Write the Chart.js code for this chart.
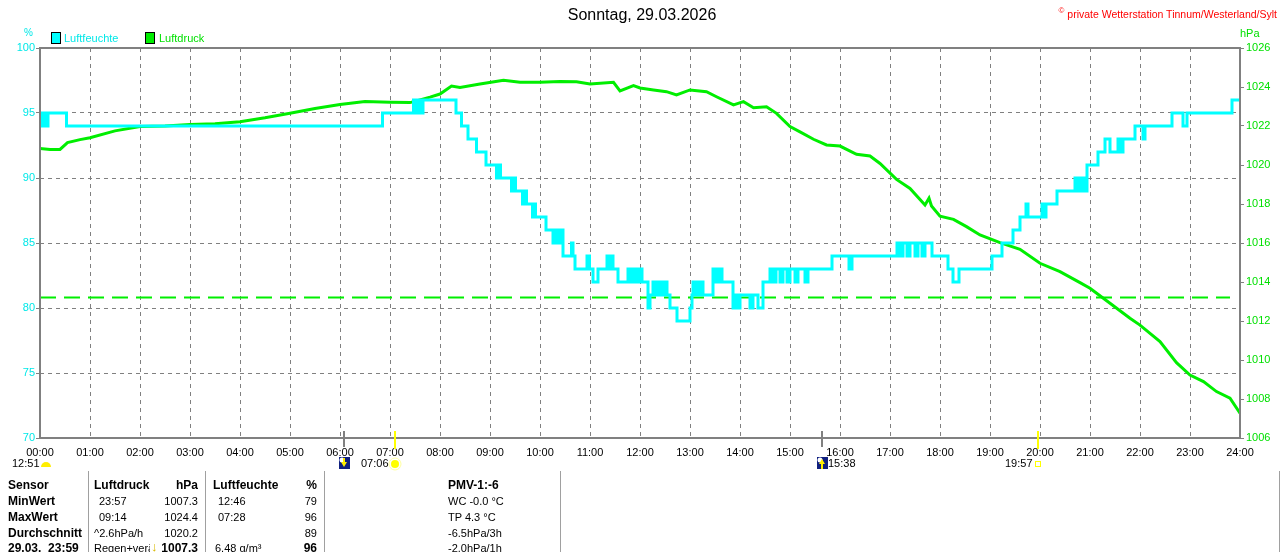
<!DOCTYPE html>
<html>
<head>
<meta charset="utf-8">
<script src="https://cdn.jsdelivr.net/npm/chart.js@4.4.1/dist/chart.umd.min.js"></script>
<style>
  body { margin: 0; background: #fff; font-family: "Liberation Sans", Arial, sans-serif; }
  #wrap { position: relative; width: 1280px; height: 552px; overflow: hidden; background: #fff; }
  #chart { position: absolute; left: 0; top: 0; }
  .t { position: absolute; white-space: nowrap; font-size: 11px; line-height: 14px; color: #000; }
  .b { font-weight: bold; font-size: 12px; }
  .r { text-align: right; }
  .sep { position: absolute; top: 471px; height: 81px; width: 1px; background: #a0a0a0; }
  .box { position: absolute; width: 8px; height: 10px; border: 1px solid #000; }
</style>
</head>
<body>
<div id="wrap">
  <canvas id="chart" width="1280" height="552"></canvas>

  <!-- Kopf -->
  <div class="t" style="left:0; width:1284px; top:5px; text-align:center; font-size:16px; line-height:20px;">Sonntag, 29.03.2026</div>
  <div class="t" style="right:3px; top:4px; color:#ff0000; font-size:10.5px;"><sup style="font-size:8px">©</sup> private Wetterstation Tinnum/Westerland/Sylt</div>
  <div class="t" style="left:24px; top:26px; color:#00e8e8; font-size:10px;">%</div>
  <div class="t" style="left:1240px; top:26px; color:#00e000;">hPa</div>

  <!-- Legende -->
  <div class="box" style="left:51px; top:32px; background:#00ffff;"></div>
  <div class="t" style="left:64px; top:31px; color:#00e8e8;">Luftfeuchte</div>
  <div class="box" style="left:145px; top:32px; background:#00ee00;"></div>
  <div class="t" style="left:159px; top:31px; color:#00e000;">Luftdruck</div>

  <!-- Sonne / Mond -->
  <div class="t" style="left:12px; top:456px;">12:51</div>
  <div class="t" style="left:361px; top:456px;">07:06</div>
  <div class="t" style="left:828px; top:456px;">15:38</div>
  <div class="t" style="left:1005px; top:456px;">19:57</div>

  <!-- Tabelle -->
  <div class="sep" style="left:88px"></div>
  <div class="sep" style="left:205px"></div>
  <div class="sep" style="left:324px"></div>
  <div class="sep" style="left:560px"></div>
  <div class="sep" style="left:1279px"></div>

  <div class="t b" style="left:8px; top:478px;">Sensor</div>
  <div class="t b" style="left:8px; top:494px;">MinWert</div>
  <div class="t b" style="left:8px; top:510px;">MaxWert</div>
  <div class="t b" style="left:8px; top:526px;">Durchschnitt</div>
  <div class="t b" style="left:8px; top:541px;">29.03.&nbsp; 23:59</div>

  <div class="t b" style="left:94px; top:478px;">Luftdruck</div>
  <div class="t b r" style="left:150px; width:48px; top:478px;">hPa</div>
  <div class="t" style="left:99px; top:494px;">23:57</div>
  <div class="t r" style="left:150px; width:48px; top:494px;">1007.3</div>
  <div class="t" style="left:99px; top:510px;">09:14</div>
  <div class="t r" style="left:150px; width:48px; top:510px;">1024.4</div>
  <div class="t" style="left:94px; top:526px;">^2.6hPa/h</div>
  <div class="t r" style="left:150px; width:48px; top:526px;">1020.2</div>
  <div class="t" style="left:94px; top:541px; width:56px; overflow:hidden;">Regen+veränderlich</div>
  <div class="t b" style="left:151px; top:540px; color:#d8b800; font-size:13px;">↓</div>
  <div class="t b r" style="left:150px; width:48px; top:541px;">1007.3</div>

  <div class="t b" style="left:213px; top:478px;">Luftfeuchte</div>
  <div class="t b r" style="left:280px; width:37px; top:478px;">%</div>
  <div class="t" style="left:218px; top:494px;">12:46</div>
  <div class="t r" style="left:280px; width:37px; top:494px;">79</div>
  <div class="t" style="left:218px; top:510px;">07:28</div>
  <div class="t r" style="left:280px; width:37px; top:510px;">96</div>
  <div class="t r" style="left:280px; width:37px; top:526px;">89</div>
  <div class="t" style="left:215px; top:541px;">6.48 g/m³</div>
  <div class="t b r" style="left:280px; width:37px; top:541px;">96</div>

  <div class="t b" style="left:448px; top:478px;">PMV-1:-6</div>
  <div class="t" style="left:448px; top:494px;">WC -0.0 °C</div>
  <div class="t" style="left:448px; top:510px;">TP 4.3 °C</div>
  <div class="t" style="left:448px; top:526px;">-6.5hPa/3h</div>
  <div class="t" style="left:448px; top:541px;">-2.0hPa/1h</div>
</div>

<script>
// Luftfeuchte (%), Stufenwerte: Wert gilt ab dem Zeitpunkt (Stunden)
const humTimes = [
  0.00, 0.04, 0.08, 0.12, 0.16, 0.53, 6.85, 7.47, 7.52, 7.57, 7.62, 7.66,
  8.32, 8.43, 8.56, 8.73, 8.92, 9.13, 9.17, 9.21, 9.43, 9.47, 9.51, 9.65,
  9.69, 9.73, 9.85, 9.88, 9.91, 10.12, 10.26, 10.30, 10.36, 10.40, 10.46, 10.63,
  10.66, 10.70, 10.94, 10.99, 11.06, 11.16, 11.34, 11.38, 11.42, 11.46, 11.56, 11.76,
  11.82, 11.88, 11.94, 12.00, 12.04, 12.16, 12.20, 12.26, 12.32, 12.38, 12.44, 12.50,
  12.54, 12.60, 12.74, 13.00, 13.04, 13.06, 13.10, 13.14, 13.18, 13.22, 13.26, 13.46,
  13.52, 13.58, 13.64, 13.86, 13.90, 13.94, 14.00, 14.20, 14.26, 14.36, 14.46, 14.60,
  14.66, 14.72, 14.80, 14.86, 14.94, 15.00, 15.10, 15.16, 15.30, 15.36, 15.46, 15.84,
  16.18, 16.24, 17.14, 17.20, 17.26, 17.34, 17.40, 17.50, 17.56, 17.64, 17.70, 17.84,
  18.16, 18.26, 18.38, 19.04, 19.24, 19.46, 19.60, 19.72, 19.76, 20.04, 20.08, 20.12,
  20.34, 20.70, 20.76, 20.82, 20.88, 20.94, 21.16, 21.30, 21.40, 21.56, 21.60, 21.66,
  21.90, 22.06, 22.10, 22.64, 22.86, 22.94, 23.84, 24.00
];
const humValues = [
  95, 94, 95, 94, 95, 94, 95, 96, 95, 96, 95, 96,
  95, 94, 93, 92, 91, 90, 91, 90, 89, 90, 89, 88,
  89, 88, 87, 88, 87, 86, 85, 86, 85, 86, 84, 85,
  84, 83, 84, 83, 82, 83, 84, 83, 84, 83, 82, 83,
  82, 83, 82, 83, 82, 80, 81, 82, 81, 82, 81, 82,
  81, 80, 79, 80, 81, 82, 81, 82, 81, 82, 81, 83,
  82, 83, 82, 80, 81, 80, 81, 80, 81, 80, 82, 83,
  82, 83, 82, 83, 82, 83, 82, 83, 82, 83, 83, 84,
  83, 84, 85, 84, 85, 84, 85, 84, 85, 84, 85, 84,
  83, 82, 83, 84, 85, 86, 87, 88, 87, 88, 87, 88,
  89, 90, 89, 90, 89, 91, 92, 93, 92, 93, 92, 93,
  94, 93, 94, 95, 94, 95, 96, 96
];

// Luftdruck (hPa)
const presTimes = [
  0.00, 0.20, 0.40, 0.55, 0.80, 1.00, 1.50, 2.00, 2.50, 3.00, 3.50, 4.00,
  4.50, 5.00, 5.50, 6.00, 6.50, 7.00, 7.40, 7.80, 8.00, 8.23, 8.40, 8.80,
  9.27, 9.60, 10.00, 10.40, 10.73, 11.00, 11.47, 11.60, 11.87, 12.00, 12.27, 12.53,
  12.73, 13.00, 13.33, 13.53, 13.87, 14.07, 14.27, 14.53, 14.73, 15.00, 15.20, 15.47,
  15.73, 16.00, 16.33, 16.60, 16.80, 17.13, 17.40, 17.70, 17.78, 17.83, 18.00, 18.27,
  18.53, 18.80, 19.20, 19.60, 20.00, 20.40, 20.80, 21.00, 21.40, 21.80, 22.00, 22.40,
  22.73, 23.00, 23.27, 23.53, 23.80, 24.00
];
const presValues = [
  1020.85, 1020.80, 1020.80, 1021.15, 1021.30, 1021.40, 1021.75, 1021.97, 1022.00, 1022.08, 1022.12, 1022.22,
  1022.42, 1022.65, 1022.90, 1023.10, 1023.25, 1023.22, 1023.20, 1023.48, 1023.64, 1024.05, 1023.97, 1024.15,
  1024.35, 1024.25, 1024.25, 1024.28, 1024.27, 1024.15, 1024.24, 1023.80, 1024.07, 1023.95, 1023.85, 1023.76,
  1023.59, 1023.85, 1023.76, 1023.50, 1023.08, 1023.25, 1022.94, 1022.99, 1022.65, 1021.97, 1021.70, 1021.32,
  1021.03, 1020.97, 1020.55, 1020.46, 1020.08, 1019.26, 1018.80, 1017.95, 1018.30, 1017.90, 1017.38, 1017.21,
  1016.84, 1016.41, 1016.02, 1015.68, 1014.96, 1014.53, 1013.97, 1013.68, 1012.91, 1012.14, 1011.79, 1010.94,
  1009.86, 1009.23, 1008.89, 1008.38, 1008.04, 1007.27
];

// gestrichelte Linie (Skala links)
const dashTimes = [0, 23.8];
const dashLevel = [80.8, 80.8];

// Sonne / Mond (Stunden)
const sunTimes = [7.1, 19.95];
const moonTimes = [6.08, 15.64];

const pad2 = v => String(v).padStart(2, '0');
const pts = (xs, ys) => xs.map((x, i) => ({ x: x, y: ys[i] }));

const FONT = { family: '"Liberation Sans", Arial, sans-serif', size: 11 };

const frameAndMarks = {
  id: 'frameAndMarks',
  afterDatasetsDraw(chart) {
    const { ctx, chartArea: a } = chart;
    ctx.save();
    ctx.strokeStyle = '#808080';
    ctx.lineWidth = 2;
    ctx.strokeRect(a.left, a.top, a.right - a.left, a.bottom - a.top);
    ctx.restore();
  },
  afterDraw(chart) {
    const { ctx, chartArea: a } = chart;
    const xs = chart.scales.x;
    ctx.save();
    // Mond
    moonTimes.forEach((t, i) => {
      const px = Math.round(xs.getPixelForValue(t));
      ctx.fillStyle = '#808080';
      ctx.fillRect(px - 1, a.bottom - 7, 2, 16);
      ctx.fillStyle = '#102080';
      ctx.fillRect(px - 5, 457, 11, 12);
      ctx.fillStyle = '#ffffff';
      ctx.beginPath();
      ctx.arc(px - 2, 460, 2.5, 0, Math.PI * 2);
      ctx.fill();
      ctx.fillStyle = '#ffee00';
      ctx.beginPath();
      if (i === 0) {
        ctx.moveTo(px - 3, 462); ctx.lineTo(px + 3, 462); ctx.lineTo(px, 467);
      } else {
        ctx.moveTo(px - 3, 464); ctx.lineTo(px + 3, 464); ctx.lineTo(px, 459);
      }
      ctx.fill();
      ctx.fillRect(px - 1, i === 0 ? 458 : 464, 2, 5);
    });
    // Sonne
    sunTimes.forEach((t, i) => {
      const px = Math.round(xs.getPixelForValue(t));
      ctx.fillStyle = '#ffff00';
      ctx.fillRect(px - 1, a.bottom - 7, 2, 18);
      if (i === 0) {
        ctx.beginPath();
        ctx.arc(px, 464, 4, 0, Math.PI * 2);
        ctx.fill();
        ctx.strokeStyle = '#ffffa0';
        ctx.lineWidth = 1;
        ctx.beginPath();
        ctx.arc(px, 464, 6, 0, Math.PI * 2);
        ctx.stroke();
      } else {
        ctx.strokeStyle = '#ffff00';
        ctx.lineWidth = 1;
        ctx.strokeRect(px - 2.5, 461.5, 5, 5);
      }
    });
    // Tageslänge
    ctx.fillStyle = '#ffee00';
    ctx.beginPath();
    ctx.arc(46, 467, 5, Math.PI, 0);
    ctx.fill();
    ctx.restore();
  }
};

new Chart(document.getElementById('chart'), {
  type: 'line',
  data: {
    datasets: [
      {
        label: 'Luftfeuchte',
        data: pts(humTimes, humValues),
        yAxisID: 'y',
        borderColor: '#00ffff',
        borderWidth: 3,
        stepped: true,
        pointRadius: 0
      },
      {
        label: 'Luftdruck',
        data: pts(presTimes, presValues),
        yAxisID: 'y1',
        borderColor: '#00ee00',
        borderWidth: 3,
        pointRadius: 0,
        tension: 0
      },
      {
        label: 'Niveau',
        data: pts(dashTimes, dashLevel),
        yAxisID: 'y',
        borderColor: '#00ee00',
        borderWidth: 2,
        borderDash: [16, 8],
        pointRadius: 0
      }
    ]
  },
  options: {
    responsive: false,
    devicePixelRatio: 1,
    animation: false,
    layout: { padding: { top: 48, left: 0, right: 0, bottom: 0 } },
    plugins: {
      legend: { display: false },
      tooltip: { enabled: false }
    },
    scales: {
      x: {
        type: 'linear',
        min: 0,
        max: 24,
        afterFit: s => { s.height = 114; },
        ticks: {
          stepSize: 1,
          autoSkip: false,
          maxRotation: 0,
          padding: 8,
          color: '#000',
          font: FONT,
          callback: v => pad2(v) + ':00'
        },
        grid: { color: '#808080', drawTicks: false },
        border: { display: false, dash: [4, 4] }
      },
      y: {
        position: 'left',
        min: 70,
        max: 100,
        afterFit: s => { s.width = 40; },
        ticks: { stepSize: 5, padding: 1, color: '#00e8e8', font: FONT, callback: v => String(v) },
        grid: { color: '#808080', tickLength: 4, tickColor: '#808080', tickBorderDash: [] },
        border: { display: false, dash: [4, 4] }
      },
      y1: {
        position: 'right',
        min: 1006,
        max: 1026,
        afterFit: s => { s.width = 40; },
        ticks: { stepSize: 2, padding: 2, color: '#00e000', font: FONT, callback: v => String(v) },
        grid: { drawOnChartArea: false, tickLength: 4, tickColor: '#808080' },
        border: { display: false }
      }
    }
  },
  plugins: [frameAndMarks]
});
</script>
</body>
</html>
